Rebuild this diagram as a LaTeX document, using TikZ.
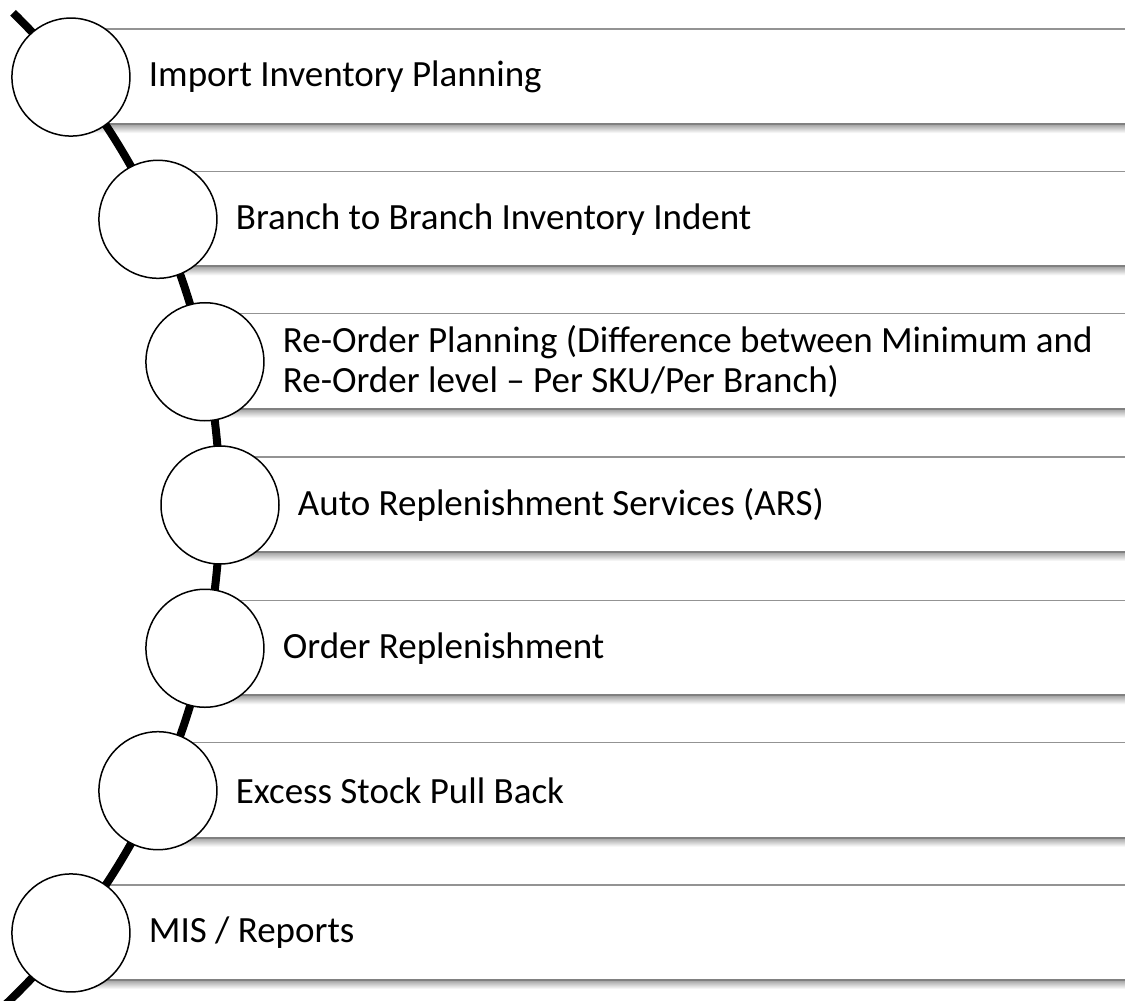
\documentclass[tikz,border=0pt]{standalone}
\usepackage{fontspec}
\setmainfont{Carlito}
\usetikzlibrary{positioning}
\begin{document}
\begin{tikzpicture}
[x=1pt,y=-1pt,
  stepcircle/.style={shape=circle,minimum size=118pt,inner sep=0pt,draw,line width=1.5pt,fill=white},
  steptext/.style={inner sep=0pt,align=left,font=\fontsize{37}{40}\selectfont},
  spine/.style={line width=8pt},
  topline/.style={draw=gray!85,line width=1.5pt},
  bottomline/.style={draw=gray,line width=2pt}]
\useasboundingbox (0,0) rectangle (1125,1001);
%% centre of the curve and right edge
\coordinate (hub) at (-469,505);
\coordinate (edge) at (1125,0);
%% positions of the steps along the curve
\foreach \i/\ang in {1/-38.4, 2/-24.5, 3/-12, 4/0, 5/12, 6/24.5, 7/38.4} {
  \path (hub) ++(\ang:689) coordinate (p\i);
  \path (p\i) ++(0,-48) coordinate (top\i);
  \path (p\i) ++(0,47) coordinate (bot\i);
  \path (p\i) ++(0,56) coordinate (shd\i);
}
%% row lines
\foreach \i in {1,...,7} {
  \shade[top color=gray!75,bottom color=white] (bot\i) rectangle (shd\i -| edge);
  \draw[topline] (top\i) -- (top\i -| edge);
  \draw[bottomline] (bot\i) -- (bot\i -| edge);
}
%% the curve
\draw[spine] (hub) ++(-45.6:689) arc[start angle=-45.6,end angle=46.5,radius=689];
%% circles
\foreach \i in {1,...,7} {
  \node[stepcircle] (c\i) at (p\i) {};
}
%% labels
\foreach \i/\txt in {1/Import Inventory Planning,
  2/Branch to Branch Inventory Indent,
  3/{Re-Order Planning (Difference between Minimum and\\Re-Order level – Per SKU/Per Branch)},
  4/Auto Replenishment Services (ARS),
  5/Order Replenishment,
  6/Excess Stock Pull Back,
  7/{MIS / Reports}} {
  \node[steptext,right=18pt of c\i] (t\i) {\txt};
}
\end{tikzpicture}
\end{document}
